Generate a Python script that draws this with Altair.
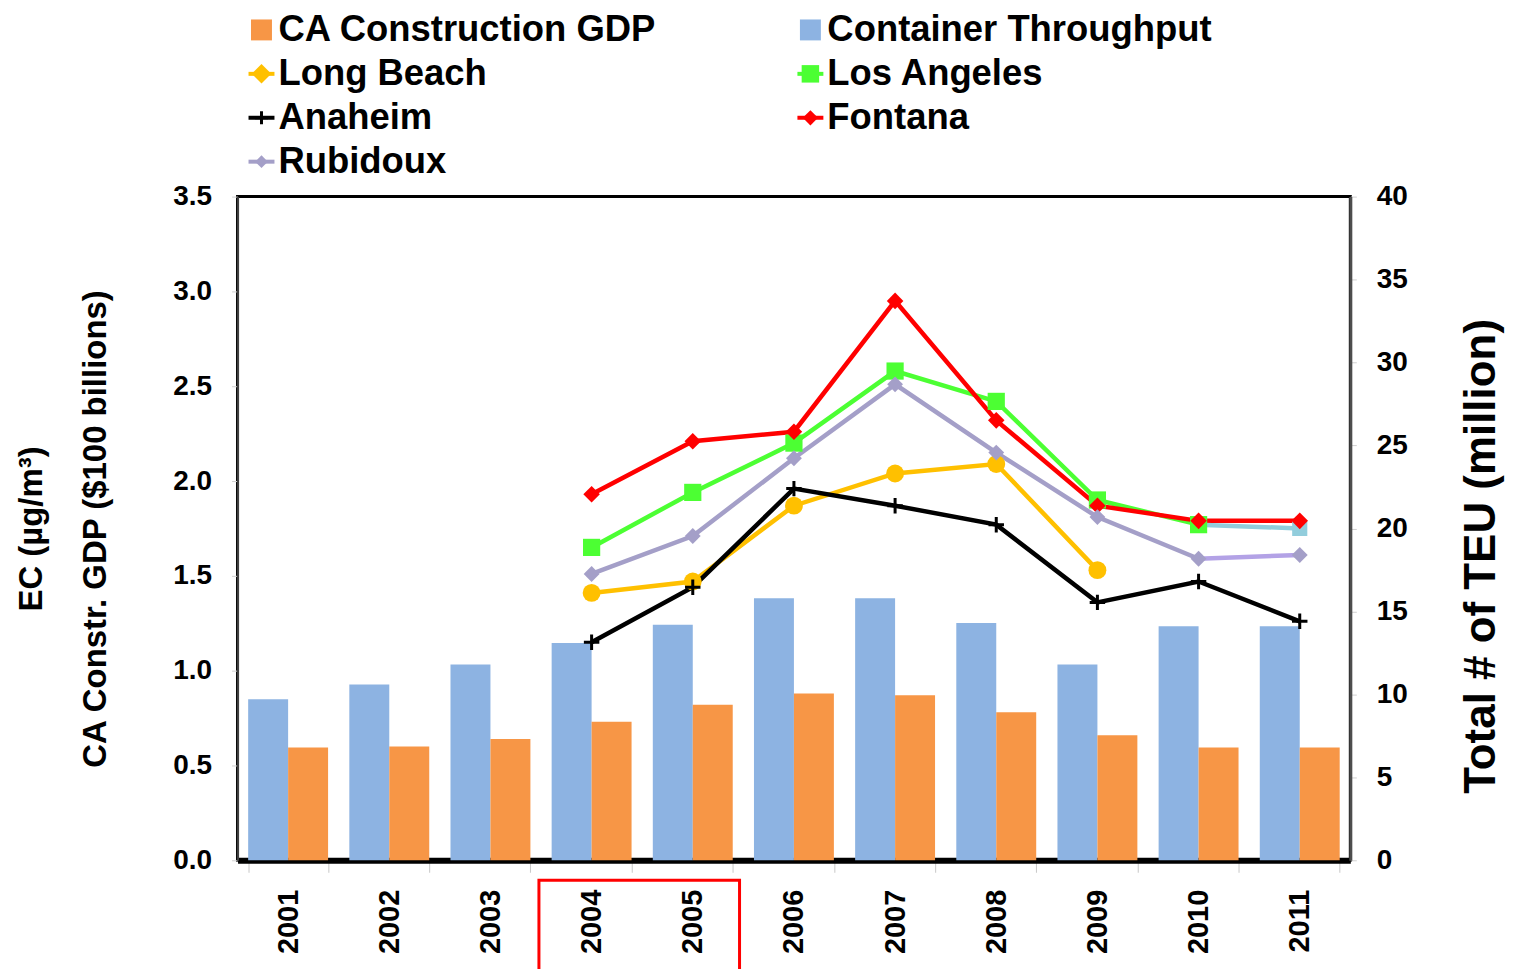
import altair as alt
import pandas as pd

FONT = "Liberation Sans"

# ---------------- data ----------------
years = [str(y) for y in range(2001, 2012)]
container_teu = [9.7, 10.6, 11.8, 13.1, 14.2, 15.8, 15.8, 14.3, 11.8, 14.1, 14.1]   # million TEU (right axis)
ca_gdp = [0.595, 0.60, 0.64, 0.73, 0.82, 0.88, 0.87, 0.78, 0.66, 0.595, 0.595]      # $100 billions (left axis)

site_years = years[3:]  # 2004-2011
long_beach = [1.41, 1.47, 1.87, 2.04, 2.09, 1.53]
los_angeles = [1.65, 1.94, 2.20, 2.58, 2.42, 1.90, 1.77, 1.75]
anaheim = [1.15, 1.44, 1.96, 1.87, 1.77, 1.36, 1.47, 1.26]
fontana = [1.93, 2.21, 2.26, 2.95, 2.32, 1.87, 1.79, 1.79]
rubidoux = [1.51, 1.71, 2.12, 2.51, 2.15, 1.81, 1.59, 1.61]

legend_labels = ["CA Construction GDP", "Container Throughput", "Long Beach",
                 "Los Angeles", "Anaheim", "Fontana", "Rubidoux"]

C_GDP = "#F79646"
C_TEU = "#8DB3E2"
C_LB = "#FFC000"
C_LA = "#4CFF33"
C_AN = "#000000"
C_FO = "#FF0000"
C_RU = "#A49FC8"
C_LA_TAIL = "#92CDDC"
C_RU_TAIL = "#B3A2E6"

# ---------------- tables ----------------
bars_df = pd.DataFrame(
    [{"year": y, "kind": "Container Throughput", "value": v} for y, v in zip(years, container_teu)]
    + [{"year": y, "kind": "CA Construction GDP", "value": v} for y, v in zip(years, ca_gdp)]
)

sites = {
    "Long Beach": long_beach,
    "Los Angeles": los_angeles,
    "Anaheim": anaheim,
    "Fontana": fontana,
    "Rubidoux": rubidoux,
}

line_rows = []
marker_rows = []
for name, vals in sites.items():
    for y, v in zip(site_years, vals):
        if name in ("Los Angeles", "Rubidoux") and y == "2011":
            continue
        line_rows.append({"series": name, "year": y, "value": v})
    for y, v in zip(site_years, vals):
        mname = name
        if name == "Los Angeles" and y == "2011":
            mname = "LA 2011"
        marker_rows.append({"series": mname, "year": y, "value": v})
# 2010-2011 tail segments (different colour in the original)
for y in ("2010", "2011"):
    line_rows.append({"series": "LA 2011", "year": y, "value": los_angeles[site_years.index(y)]})
    line_rows.append({"series": "Rubidoux 2011", "year": y, "value": rubidoux[site_years.index(y)]})

lines_df = pd.DataFrame(line_rows)
markers_df = pd.DataFrame(marker_rows)

line_domain = ["Long Beach", "Los Angeles", "Anaheim", "Rubidoux", "Fontana", "LA 2011", "Rubidoux 2011"]
line_range = [C_LB, C_LA, C_AN, C_RU, C_FO, C_LA_TAIL, C_RU_TAIL]

W, H = 1115, 665

xscale = alt.Scale(type="band", paddingInner=0.21, paddingOuter=0.105)

x_axis = alt.Axis(
    title=None, labelAngle=270, labelAlign="right", labelBaseline="middle",
    labelFont=FONT, labelFontSize=29, labelFontWeight="bold", labelColor="black",
    labelPadding=17, domainColor="black", domainWidth=6,
    ticks=True, tickBand="extent", tickColor="#C8C8C8", tickSize=12, tickWidth=1,
    grid=False,
)

left_axis = alt.Axis(
    orient="left", values=[0, 0.5, 1, 1.5, 2, 2.5, 3, 3.5], format=".1f",
    labelFont=FONT, labelFontSize=28, labelFontWeight="bold", labelColor="black",
    labelPadding=20, tickColor="#D0D0D0", tickSize=6, grid=False,
    domainColor="#404040", domainWidth=2,
    title=["EC (µg/m³)", "CA Constr. GDP ($100 billions)"],
    titleFont=FONT, titleFontSize=33, titleFontWeight="bold", titleColor="black",
    titleLineHeight=65, titlePadding=60,
)

right_axis = alt.Axis(
    orient="right", values=list(range(0, 45, 5)),
    labelFont=FONT, labelFontSize=28, labelFontWeight="bold", labelColor="black",
    labelPadding=20, tickColor="#D0D0D0", tickSize=6, grid=False,
    domainColor="#4D4D4D", domainWidth=3,
    title="Total # of TEU (million)", titleFont=FONT, titleFontSize=44,
    titleFontWeight="bold", titleColor="black", titleAngle=270,
    titleBaseline="top", titlePadding=52, titleY=360, titleAlign="center",
)

offset_scale = alt.Scale(domain=["Container Throughput", "CA Construction GDP"],
                         paddingInner=0, paddingOuter=0)

teu_bars = alt.Chart(bars_df).transform_filter(
    alt.datum.kind == "Container Throughput"
).mark_bar(color=C_TEU).encode(
    x=alt.X("year:N", scale=xscale, axis=x_axis, sort=years),
    xOffset=alt.XOffset("kind:N", scale=offset_scale),
    y=alt.Y("value:Q", scale=alt.Scale(domain=[0, 40], nice=False), axis=right_axis),
)

gdp_bars = alt.Chart(bars_df).transform_filter(
    alt.datum.kind == "CA Construction GDP"
).mark_bar(color=C_GDP).encode(
    x=alt.X("year:N", scale=xscale, sort=years),
    xOffset=alt.XOffset("kind:N", scale=offset_scale),
    y=alt.Y("value:Q", scale=alt.Scale(domain=[0, 3.5], nice=False), axis=left_axis),
)

left_y = alt.Y("value:Q", scale=alt.Scale(domain=[0, 3.5], nice=False), axis=None)

site_lines = alt.Chart(lines_df).mark_line(strokeWidth=4.5).encode(
    x=alt.X("year:N", scale=xscale, sort=years),
    y=left_y,
    color=alt.Color("series:N", scale=alt.Scale(domain=line_domain, range=line_range), legend=None),
    detail="series:N",
)

filled_markers = alt.Chart(markers_df).transform_filter(
    alt.datum.series != "Anaheim"
).mark_point(filled=True, opacity=1).encode(
    x=alt.X("year:N", scale=xscale, sort=years),
    y=left_y,
    color=alt.Color("series:N", scale=alt.Scale(
        domain=["Long Beach", "Los Angeles", "Fontana", "Rubidoux", "LA 2011"],
        range=[C_LB, C_LA, C_FO, C_RU, C_LA_TAIL]), legend=None),
    shape=alt.Shape("series:N", scale=alt.Scale(
        domain=["Long Beach", "Los Angeles", "Fontana", "Rubidoux", "LA 2011"],
        range=["circle", "square", "diamond", "diamond", "square"]), legend=None),
    size=alt.Size("series:N", scale=alt.Scale(
        domain=["Long Beach", "Los Angeles", "Fontana", "Rubidoux", "LA 2011"],
        range=[320, 230, 560, 560, 230]), legend=None),
)

plus_markers = alt.Chart(markers_df).transform_filter(
    alt.datum.series == "Anaheim"
).mark_point(shape="M-1,0L1,0M0,-1L0,1", filled=False, color=C_AN,
             strokeWidth=3, size=240, opacity=1).encode(
    x=alt.X("year:N", scale=xscale, sort=years),
    y=left_y,
)

red_box = alt.Chart(pd.DataFrame({"a": [0]})).mark_rect(
    filled=False, color="red", strokeWidth=3
).encode(
    x=alt.value(302), x2=alt.value(503), y=alt.value(685), y2=alt.value(790)
)

main = alt.layer(
    teu_bars, gdp_bars, site_lines, filled_markers, plus_markers, red_box
).resolve_scale(
    y="independent", color="independent", shape="independent", size="independent"
).properties(
    width=W, height=H,
    view=alt.ViewBackground(stroke="black", strokeWidth=3),
)

# ---------------- legend (drawn as its own small chart) ----------------
kinds = ["bar", "bar", "line", "line", "line", "line", "line"]
leg_df = pd.DataFrame({
    "label": legend_labels,
    "col": [i % 2 for i in range(len(legend_labels))],
    "row": [i // 2 for i in range(len(legend_labels))],
    "kind": kinds,
})
leg_colors = [C_GDP, C_TEU, C_LB, C_LA, C_AN, C_FO, C_RU]
leg_color = alt.Color("label:N", scale=alt.Scale(domain=legend_labels, range=leg_colors), legend=None)
lx = alt.X("col:Q", scale=alt.Scale(domain=[0, 1], range=[24, 574]), axis=None)
ly = alt.Y("row:Q", scale=alt.Scale(domain=[0, 3], range=[17, 149]), axis=None)

leg_sq = alt.Chart(leg_df).transform_filter(alt.datum.kind == "bar").mark_square(
    size=440, opacity=1).encode(x=lx, y=ly, color=leg_color)
leg_tick = alt.Chart(leg_df).transform_filter(alt.datum.kind == "line").mark_tick(
    orient="horizontal", size=26, thickness=4, opacity=1).encode(x=lx, y=ly, color=leg_color)
leg_pts = alt.Chart(leg_df).transform_filter(
    (alt.datum.kind == "line") & (alt.datum.label != "Anaheim")
).mark_point(filled=True, opacity=1).encode(
    x=lx, y=ly, color=leg_color,
    shape=alt.Shape("label:N", scale=alt.Scale(
        domain=["Long Beach", "Los Angeles", "Fontana", "Rubidoux"],
        range=["diamond", "square", "diamond", "diamond"]), legend=None),
    size=alt.Size("label:N", scale=alt.Scale(
        domain=["Long Beach", "Los Angeles", "Fontana", "Rubidoux"],
        range=[380, 160, 380, 380]), legend=None),
)
leg_plus = alt.Chart(leg_df).transform_filter(alt.datum.label == "Anaheim").mark_point(
    shape="M-1,0L1,0M0,-1L0,1", filled=False, color="black", strokeWidth=3, size=170, opacity=1
).encode(x=lx, y=ly)
leg_text = alt.Chart(leg_df).mark_text(
    align="left", baseline="middle", dx=17, font=FONT, fontSize=36.5,
    fontWeight="bold", color="black"
).encode(x=lx, y=ly, text="label:N")

legend = alt.layer(leg_sq, leg_tick, leg_pts, leg_plus, leg_text).properties(
    width=W, height=164, view=alt.ViewBackground(stroke=None)
)

chart = alt.vconcat(legend, main, spacing=0).properties(
    padding={"left": 5, "top": 3, "right": 5, "bottom": 0}
).configure(font=FONT).configure_view(stroke=None)

chart.save("out.html", embed_options={"renderer": "svg", "actions": False})
